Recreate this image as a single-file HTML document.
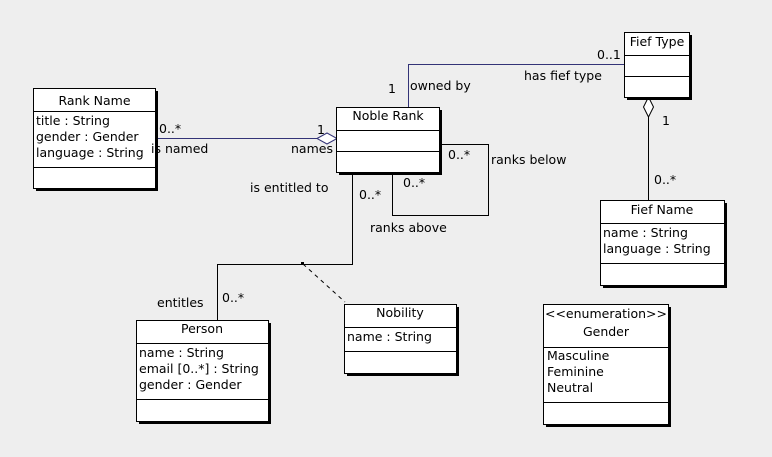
<!DOCTYPE html>
<html><head><meta charset="utf-8"><style>
html,body{margin:0;padding:0;background:#eeeeee;}
svg{display:block;}
text{font-family:"DejaVu Sans","Liberation Sans",sans-serif;font-size:12.5px;fill:#000;}
</style></head><body>
<svg width="772" height="457" viewBox="0 0 772 457" xmlns="http://www.w3.org/2000/svg">
<rect width="772" height="457" fill="#eeeeee"/>
<g stroke-width="1" shape-rendering="crispEdges">
<line x1="157" y1="138.5" x2="318" y2="138.5" stroke="#333377"/>
<polyline points="408.5,107 408.5,64.5 624,64.5" fill="none" stroke="#333377"/>
<polyline points="441,144.5 488.5,144.5 488.5,215.5 392.5,215.5 392.5,173" fill="none" stroke="#000"/>
<polyline points="352.5,173 352.5,264.5 217.5,264.5 217.5,320" fill="none" stroke="#000"/>
<line x1="648.5" y1="117" x2="648.5" y2="200" stroke="#000"/>
</g>
<line x1="303" y1="264" x2="345" y2="302" stroke="#000" stroke-dasharray="4,4"/>
<rect x="301" y="262" width="3" height="3" fill="#000"/>
<polygon points="317,138.5 327,133 337,138.5 327,144" fill="#fff" stroke="#333377"/>
<polygon points="648.5,97 653.5,107 648.5,117 643.5,107" fill="#fff" stroke="#000"/>

<g shape-rendering="crispEdges">
<rect x="36" y="91" width="122" height="100" fill="#000"/>
<rect x="33.5" y="88.5" width="122" height="100" fill="#fff" stroke="#000"/>
<line x1="33" y1="111.5" x2="156" y2="111.5" stroke="#000"/>
<line x1="33" y1="167.5" x2="156" y2="167.5" stroke="#000"/>
<rect x="339" y="110" width="103" height="65" fill="#000"/>
<rect x="336.5" y="107.5" width="103" height="65" fill="#fff" stroke="#000"/>
<line x1="336" y1="130.5" x2="440" y2="130.5" stroke="#000"/>
<line x1="336" y1="151.5" x2="440" y2="151.5" stroke="#000"/>
<rect x="627" y="35" width="65" height="65" fill="#000"/>
<rect x="624.5" y="32.5" width="65" height="65" fill="#fff" stroke="#000"/>
<line x1="624" y1="55.5" x2="690" y2="55.5" stroke="#000"/>
<line x1="624" y1="76.5" x2="690" y2="76.5" stroke="#000"/>
<rect x="603" y="203" width="124" height="85" fill="#000"/>
<rect x="600.5" y="200.5" width="124" height="85" fill="#fff" stroke="#000"/>
<line x1="600" y1="223.5" x2="725" y2="223.5" stroke="#000"/>
<line x1="600" y1="263.5" x2="725" y2="263.5" stroke="#000"/>
<rect x="139" y="323" width="132" height="101" fill="#000"/>
<rect x="136.5" y="320.5" width="132" height="101" fill="#fff" stroke="#000"/>
<line x1="136" y1="343.5" x2="269" y2="343.5" stroke="#000"/>
<line x1="136" y1="399.5" x2="269" y2="399.5" stroke="#000"/>
<rect x="347" y="307" width="112" height="69" fill="#000"/>
<rect x="344.5" y="304.5" width="112" height="69" fill="#fff" stroke="#000"/>
<line x1="344" y1="327.5" x2="457" y2="327.5" stroke="#000"/>
<line x1="344" y1="351.5" x2="457" y2="351.5" stroke="#000"/>
<rect x="546" y="307" width="125" height="120" fill="#000"/>
<rect x="543.5" y="304.5" width="125" height="120" fill="#fff" stroke="#000"/>
<line x1="543" y1="347.5" x2="669" y2="347.5" stroke="#000"/>
<line x1="543" y1="402.5" x2="669" y2="402.5" stroke="#000"/>
</g>

<text x="94.5" y="105" text-anchor="middle">Rank Name</text>
<text x="36" y="125">title : String</text>
<text x="36" y="141">gender : Gender</text>
<text x="36" y="157">language : String</text>

<text x="388" y="120" text-anchor="middle">Noble Rank</text>
<text x="657" y="46" text-anchor="middle">Fief Type</text>

<text x="662" y="214" text-anchor="middle">Fief Name</text>
<text x="603" y="237">name : String</text>
<text x="603" y="253">language : String</text>

<text x="202" y="333" text-anchor="middle">Person</text>
<text x="139" y="357">name : String</text>
<text x="139" y="373">email [0..*] : String</text>
<text x="139" y="389">gender : Gender</text>

<text x="400" y="317" text-anchor="middle">Nobility</text>
<text x="347" y="341">name : String</text>

<text x="606" y="318" text-anchor="middle">&lt;&lt;enumeration&gt;&gt;</text>
<text x="606" y="336" text-anchor="middle">Gender</text>
<text x="547" y="360">Masculine</text>
<text x="547" y="376">Feminine</text>
<text x="547" y="392">Neutral</text>

<text x="159" y="133">0..*</text>
<text x="151" y="153">is named</text>
<text x="317" y="134">1</text>
<text x="291" y="153">names</text>
<text x="388" y="93">1</text>
<text x="410" y="90">owned by</text>
<text x="597" y="59">0..1</text>
<text x="524" y="80">has fief type</text>
<text x="662" y="125">1</text>
<text x="654" y="184">0..*</text>
<text x="448" y="159">0..*</text>
<text x="491" y="164">ranks below</text>
<text x="403" y="187">0..*</text>
<text x="370" y="232">ranks above</text>
<text x="250" y="192">is entitled to</text>
<text x="359" y="199">0..*</text>
<text x="157" y="307">entitles</text>
<text x="222" y="302">0..*</text>
</svg>
</body></html>
